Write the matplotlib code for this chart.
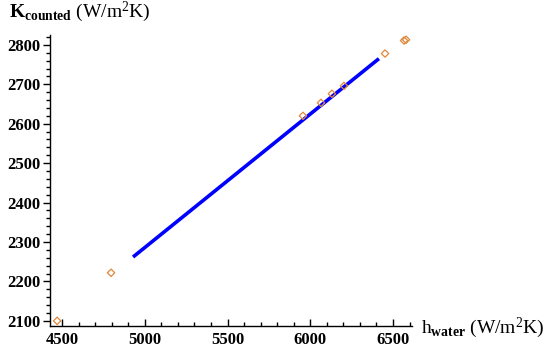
import matplotlib
matplotlib.use("Agg")
import matplotlib.pyplot as plt
from matplotlib.ticker import MultipleLocator

plt.rcParams['mathtext.fontset'] = 'custom'
plt.rcParams['mathtext.rm'] = 'Liberation Serif'
plt.rcParams['mathtext.bf'] = 'Liberation Serif:bold'
plt.rcParams['mathtext.it'] = 'Liberation Serif:italic'

# fitted line (blue)
line_x = [4929, 6415]
line_y = [2262, 2765]

# measured points (orange diamonds)
pts_x = [4470, 4796, 5956, 6065, 6131, 6204, 6452, 6567, 6579]
pts_y = [2100, 2222, 2620, 2653, 2676, 2696, 2778, 2811, 2813]

x_ticks = [4500, 5000, 5500, 6000, 6500]
y_ticks = [2100, 2200, 2300, 2400, 2500, 2600, 2700, 2800]

W, H = 544, 353
fig = plt.figure(figsize=(W / 100, H / 100), dpi=100)
ax = fig.add_axes([50 / W, (H - 326) / H, (412 - 50) / W, (326 - 35) / H])

ax.plot(line_x, line_y, color='#0000ff', lw=2.6, solid_capstyle='butt', zorder=2)
ax.scatter(pts_x, pts_y, marker='D', s=14, facecolors='none',
           edgecolors='#e0883a', linewidths=0.9, zorder=3)

ax.set_xlim(4427, 6615)
ax.set_ylim(2087, 2825)

for s in ['top', 'right']:
    ax.spines[s].set_visible(False)
for s in ['left', 'bottom']:
    ax.spines[s].set_linewidth(1.0)
    ax.spines[s].set_color('black')

ax.set_xticks(x_ticks)
ax.set_yticks(y_ticks)
ax.xaxis.set_minor_locator(MultipleLocator(100))
ax.yaxis.set_minor_locator(MultipleLocator(20))
ax.tick_params(axis='x', which='major', direction='in', length=5, width=1, pad=4)
ax.tick_params(axis='x', which='minor', direction='in', length=3, width=1)
ax.tick_params(axis='y', which='major', direction='out', length=5, width=1, pad=2)
ax.tick_params(axis='y', which='minor', direction='out', length=3, width=1)

for lab in ax.get_xticklabels() + ax.get_yticklabels():
    lab.set_fontfamily('Liberation Serif')
    lab.set_fontweight('bold')
    lab.set_fontsize(12)

fig.text(9 / W, 1 - 17 / H, r'$\mathbf{K}_{\mathbf{counted}}$ (W/m$^2$K)',
         fontsize=14, family='Liberation Serif', va='baseline', ha='left')
fig.text(421 / W, 1 - 333 / H, r'h$_{\mathbf{water}}$ (W/m$^2$K)',
         fontsize=14, family='Liberation Serif', va='baseline', ha='left')

fig.savefig('out.png', dpi=100)
